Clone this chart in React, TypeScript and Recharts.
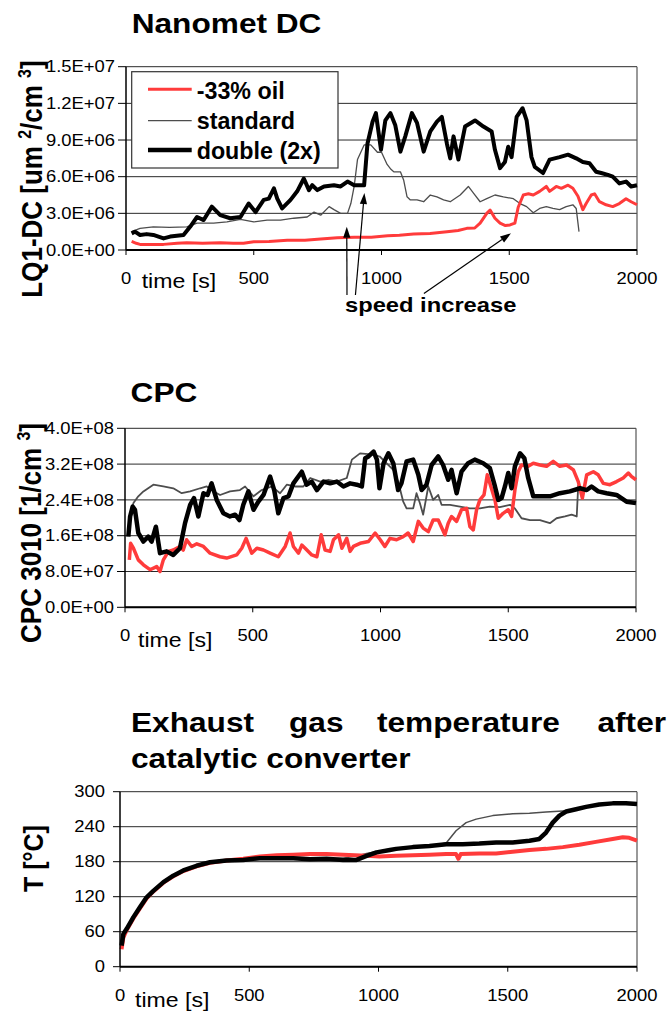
import React from 'react';
import { LineChart, Line, XAxis, YAxis, CartesianGrid, ReferenceLine } from 'recharts';

const FONT = "'Liberation Sans', Arial, Helvetica, sans-serif";

// ---------- ticks ----------
const TIME_TICKS = [0, 500, 1000, 1500, 2000];
const DC_TICKS = [0, 3e6, 6e6, 9e6, 12e6, 15e6];
const CPC_TICKS = [0, 0.8e8, 1.6e8, 2.4e8, 3.2e8, 4.0e8];
const T_TICKS = [0, 60, 120, 180, 240, 300];

const SERIES_NAMES = ['-33% oil', 'standard', 'double (2x)'];
const SERIES_COLORS = ['#ff3b3b', '#4d4d4d', '#000000'];

// ---------- Nanomet DC, values in 1e6 um2/cm3 ----------
const DC_OIL: number[][] = [
  [22,0.70],[40,0.55],[55,0.46],[100,0.45],[147,0.46],[200,0.55],[238,0.6],[300,0.55],[369,0.6],[420,0.55],
  [460,0.55],[500,0.68],[560,0.7],[631,0.8],[700,0.8],[762,0.9],[827,1.0],[893,1.05],[960,1.05],[1024,1.17],
  [1070,1.2],[1126,1.3],[1190,1.35],[1256,1.5],[1300,1.6],[1334,1.77],[1365,1.8],[1386,2.2],[1412,3.0],[1425,3.27],
  [1444,2.6],[1464,2.2],[1485,2.0],[1503,2.05],[1522,2.2],[1535,3.5],[1555,4.5],[1575,4.6],[1594,4.5],[1619,4.8],
  [1645,5.2],[1658,4.8],[1684,5.2],[1704,5.05],[1730,5.3],[1749,5.05],[1769,4.4],[1788,3.3],[1801,3.8],[1821,4.5],
  [1834,4.6],[1853,3.95],[1879,3.7],[1905,3.55],[1931,3.8],[1957,4.2],[1977,3.95],[2000,3.7],
];
const DC_STD: number[][] = [
  [22,1.5],[55,1.77],[107,1.9],[170,1.85],[238,1.9],[278,2.2],[343,2.2],[395,2.3],[448,2.5],[500,2.3],
  [552,2.45],[605,2.45],[657,2.6],[709,2.7],[736,3.1],[762,2.85],[795,3.55],[814,3.3],[840,3.0],[867,3.0],
  [880,3.8],[893,5.2],[906,7.4],[932,8.6],[958,8.6],[984,8.0],[1000,8.0],[1022,7.0],[1037,6.6],[1048,6.4],
  [1074,6.4],[1087,5.7],[1100,4.35],[1113,4.1],[1139,4.1],[1165,3.95],[1191,4.5],[1217,4.35],[1243,4.1],[1269,3.95],
  [1308,4.5],[1340,5.2],[1360,4.65],[1386,3.95],[1412,4.2],[1444,4.5],[1477,4.35],[1516,4.2],[1542,3.8],[1568,3.55],
  [1594,3.05],[1619,3.4],[1645,3.55],[1671,3.4],[1697,3.3],[1723,3.55],[1749,3.7],[1762,3.4],[1773,1.5],
];
const DC_DBL: number[][] = [
  [22,1.36],[35,1.5],[55,1.23],[81,1.3],[107,1.23],[147,0.95],[173,1.1],[225,1.23],[251,1.9],[278,2.7],
  [304,2.45],[336,3.55],[369,2.85],[408,2.6],[448,2.7],[480,3.8],[507,3.1],[539,4.1],[559,4.2],[579,5.05],
  [592,4.2],[611,3.4],[644,4.1],[670,4.8],[696,5.85],[716,4.9],[729,5.3],[749,4.9],[775,5.2],[814,5.3],
  [840,5.2],[867,5.6],[893,5.3],[932,5.3],[945,8.7],[965,10.5],[978,11.2],[998,8.2],[1015,10.6],[1035,11.2],
  [1054,10.2],[1074,8.05],[1093,9.3],[1119,11.2],[1139,10.4],[1165,8.05],[1191,9.7],[1217,10.5],[1236,10.9],[1256,8.7],
  [1269,7.5],[1282,9.3],[1301,7.4],[1327,10.1],[1366,10.6],[1399,10.1],[1431,9.7],[1444,8.2],[1464,6.7],[1483,7.2],
  [1496,8.45],[1509,7.6],[1529,10.9],[1552,11.6],[1568,10.6],[1587,7.6],[1600,6.8],[1632,6.3],[1658,7.4],[1697,7.6],
  [1730,7.8],[1762,7.5],[1788,7.2],[1814,7.1],[1840,6.4],[1860,6.3],[1886,6.15],[1905,6.0],[1931,5.45],[1957,5.6],
  [1977,5.2],[2000,5.3],
];
// speed increase arrows: [tailTime, tailValue, tipTime, tipValue] (1e6)
const SPEED_ARROWS: number[][] = [
  [865,-3.68,864,1.9],
  [898,-3.68,933,4.66],
  [1166,-3.56,1507,1.37],
];

// ---------- CPC 3010, values in 1e8 1/cm3 ----------
const CPC_OIL: number[][] = [
  [17,1.06],[22,1.43],[33,1.32],[52,1.06],[72,0.95],[98,0.84],[124,0.91],[137,0.80],[150,1.06],[170,1.25],
  [189,1.28],[215,1.36],[228,1.28],[241,1.51],[261,1.36],[281,1.42],[307,1.36],[333,1.21],[372,1.13],[398,1.10],
  [437,1.17],[457,1.32],[474,1.54],[496,1.21],[516,1.32],[542,1.28],[568,1.21],[600,1.13],[627,1.36],[646,1.66],
  [659,1.36],[679,1.21],[692,1.39],[705,1.32],[731,1.17],[751,1.13],[768,1.62],[783,1.28],[803,1.25],[816,1.51],
  [836,1.62],[849,1.32],[868,1.54],[881,1.25],[894,1.36],[920,1.43],[953,1.47],[979,1.66],[999,1.51],[1017,1.36],
  [1037,1.54],[1063,1.51],[1089,1.58],[1108,1.66],[1128,1.47],[1148,1.92],[1167,1.77],[1187,1.69],[1206,1.95],[1226,1.95],
  [1252,1.62],[1265,1.88],[1278,2.03],[1298,1.92],[1317,2.18],[1337,2.21],[1350,1.80],[1363,1.73],[1376,2.18],[1389,2.40],
  [1405,2.51],[1418,2.96],[1428,2.77],[1448,2.40],[1461,1.99],[1480,2.10],[1500,2.18],[1513,2.03],[1526,2.62],[1539,3.03],
  [1552,3.18],[1578,3.15],[1598,3.22],[1624,3.18],[1650,3.15],[1676,3.26],[1702,3.15],[1728,3.18],[1755,3.07],[1774,2.81],
  [1790,2.44],[1807,2.96],[1833,3.03],[1852,2.96],[1872,2.77],[1898,2.74],[1924,2.81],[1950,2.89],[1970,3.0],[1983,2.92],
  [2000,2.85],
];
const CPC_STD: number[][] = [
  [20,2.0],[33,2.33],[52,2.48],[72,2.59],[111,2.74],[150,2.70],[189,2.66],[222,2.55],[255,2.59],[294,2.66],
  [320,2.70],[346,2.59],[372,2.51],[411,2.59],[450,2.62],[470,2.70],[503,2.48],[535,2.62],[574,2.70],[607,2.55],
  [633,2.74],[666,2.70],[698,2.70],[725,2.89],[764,2.81],[796,2.85],[829,2.81],[868,2.89],[888,3.30],[920,3.44],
  [973,3.41],[997,3.37],[1023,3.22],[1050,3.07],[1069,2.81],[1089,2.36],[1102,2.21],[1128,2.21],[1141,2.55],[1154,2.33],
  [1167,2.07],[1187,2.70],[1206,2.40],[1226,2.51],[1239,2.29],[1272,2.29],[1311,2.25],[1350,2.21],[1389,2.21],[1428,2.25],
  [1467,2.24],[1507,2.29],[1526,2.21],[1552,1.99],[1585,1.95],[1624,1.95],[1663,1.88],[1689,1.99],[1722,2.03],[1748,2.07],
  [1768,2.03],[1774,2.74],
];
const CPC_DBL: number[][] = [
  [13,1.58],[20,2.03],[30,2.25],[39,2.18],[52,1.66],[72,1.47],[91,1.58],[104,1.47],[121,1.80],[137,1.21],
  [163,1.25],[189,1.17],[215,1.32],[235,1.88],[255,2.29],[270,2.44],[287,2.03],[307,2.55],[323,2.51],[339,2.77],
  [359,2.40],[385,2.10],[411,2.03],[431,2.07],[448,1.95],[463,2.29],[483,2.59],[503,2.18],[522,2.36],[542,2.51],
  [568,2.92],[584,2.62],[600,2.10],[620,2.44],[640,2.48],[659,2.77],[692,3.03],[711,2.74],[731,2.81],[751,2.62],
  [777,2.81],[803,2.77],[829,2.81],[855,2.70],[881,2.77],[907,2.74],[927,2.70],[940,3.33],[953,3.37],[973,3.48],
  [986,3.30],[996,2.66],[1012,3.22],[1031,3.44],[1050,3.22],[1069,2.62],[1082,2.77],[1102,3.26],[1128,3.30],[1148,2.96],
  [1161,2.62],[1180,2.74],[1200,3.18],[1226,3.37],[1245,3.18],[1265,2.85],[1278,3.07],[1298,2.55],[1317,3.03],[1343,3.22],
  [1369,3.30],[1402,3.22],[1428,3.11],[1448,2.70],[1461,2.40],[1474,2.44],[1487,2.70],[1500,3.0],[1513,2.66],[1526,3.15],
  [1546,3.44],[1563,3.33],[1578,2.89],[1598,2.48],[1624,2.48],[1663,2.48],[1702,2.55],[1741,2.59],[1781,2.66],[1807,2.62],
  [1826,2.70],[1852,2.59],[1885,2.55],[1924,2.51],[1963,2.36],[2000,2.33],
];

// ---------- Exhaust gas temperature, °C ----------
const T_OIL: number[][] = [
  [6,30],[13,50],[26,63],[52,83],[77,100],[103,117],[129,129],[168,144],[206,155],[245,164],
  [296,172],[348,178],[412,182],[477,185],[541,189],[606,191],[670,192],[735,193],[799,193],[863,192],
  [954,190],[1004,189],[1068,190],[1133,191],[1197,192],[1262,193],[1300,193],[1309,185],[1318,193],[1390,194],
  [1455,194],[1519,197],[1584,200],[1648,202],[1713,205],[1777,209],[1841,214],[1906,219],[1945,222],[1970,221],
  [2000,216],
];
const T_STD: number[][] = [
  [6,36],[13,56],[26,65],[52,85],[77,102],[103,119],[129,130],[168,145],[206,156],[245,165],
  [296,173],[348,179],[412,182],[477,183],[541,185],[606,186],[670,186],[735,186],[799,186],[863,186],
  [915,190],[954,194],[1000,198],[1100,203],[1200,207],[1262,212],[1300,233],[1339,247],[1378,253],[1442,259],
  [1519,262],[1584,263],[1648,265],[1713,267],[1770,269],
];
const T_DBL: number[][] = [
  [6,36],[13,56],[26,65],[52,85],[77,102],[103,119],[129,130],[168,145],[206,156],[245,165],
  [296,173],[348,179],[412,182],[477,183],[541,186],[606,186],[670,186],[735,184],[799,185],[863,183],
  [915,183],[954,190],[992,196],[1044,200],[1068,202],[1133,205],[1197,207],[1262,210],[1326,210],[1390,211],
  [1455,213],[1519,213],[1584,216],[1622,219],[1648,230],[1674,247],[1700,259],[1726,266],[1764,270],[1803,274],
  [1854,278],[1906,280],[1957,280],[2000,279],
];

const toPts = (arr: number[][], k: number) => arr.map(([t, v]) => ({ t, v: v * k }));

const expFmt = (v: number) => {
  const [m, e] = v.toExponential(1).split('e');
  const sign = e[0] === '-' ? '-' : '+';
  const digits = e.replace(/[+-]/, '').padStart(2, '0');
  return `${m}E${sign}${digits}`;
};
const plainFmt = (v: number) => String(v);

const SX = 1.15;

const makeYTick = (fmt: (v: number) => string) => (p: any) => (
  <text
    transform={`translate(${p.x},${p.y}) scale(${SX},1)`}
    x={0}
    y={0}
    dy="0.36em"
    textAnchor="end"
    fontSize={16}
    fontFamily={FONT}
    fill="#000"
  >
    {fmt(p.payload.value)}
  </text>
);

const XTick = (p: any) => (
  <text
    transform={`translate(${p.x},${p.y + 27}) scale(${SX},1)`}
    x={0}
    y={0}
    textAnchor="middle"
    fontSize={16}
    fontFamily={FONT}
    fill="#000"
  >
    {p.payload.value}
  </text>
);

const ArrowShape = (p: any) => {
  const { x1, y1, x2, y2 } = p;
  const a = Math.atan2(y2 - y1, x2 - x1);
  const L = 11;
  const W = 3.6;
  const bx = x2 - L * Math.cos(a);
  const by = y2 - L * Math.sin(a);
  const pts = `${x2},${y2} ${bx - W * Math.sin(a)},${by + W * Math.cos(a)} ${bx + W * Math.sin(a)},${by - W * Math.cos(a)}`;
  return (
    <g>
      <line x1={x1} y1={y1} x2={bx} y2={by} stroke="#000" strokeWidth={1.2} />
      <polygon points={pts} fill="#000" />
    </g>
  );
};

type PanelProps = {
  top: number;
  height: number;
  plot: { left: number; right: number; top: number; bottom: number };
  yDomain: [number, number];
  yTicks: number[];
  yFmt: (v: number) => string;
  yTickSize: number;
  yTickMargin: number;
  series: { data: any[]; width: number }[];
  children?: React.ReactNode;
};

function Panel({ top, height, plot, yDomain, yTicks, yFmt, yTickSize, yTickMargin, series, children }: PanelProps) {
  const margin = {
    top: plot.top - top,
    bottom: 0,
    left: 0,
    right: 668 - plot.right,
  };
  const xAxisHeight = top + height - plot.bottom;
  // draw order: standard, oil, double
  const order = [1, 0, 2];
  return (
    <div style={{ position: 'absolute', left: 0, top, width: 668, height }}>
      <LineChart width={668} height={height} margin={margin}>
        <CartesianGrid horizontal vertical={false} stroke="#2a2a2a" strokeWidth={1} />
        <XAxis
          dataKey="t"
          type="number"
          domain={[0, 2000]}
          ticks={TIME_TICKS}
          height={xAxisHeight}
          tickSize={5}
          tickMargin={2}
          axisLine={{ stroke: '#000', strokeWidth: 2 }}
          tickLine={{ stroke: '#000', strokeWidth: 1 }}
          tick={XTick}
          interval={0}
        />
        <YAxis
          type="number"
          domain={yDomain}
          ticks={yTicks}
          width={plot.left}
          tickSize={yTickSize}
          tickMargin={yTickMargin}
          axisLine={{ stroke: '#000', strokeWidth: 1.5 }}
          tickLine={{ stroke: '#000', strokeWidth: 1 }}
          tick={makeYTick(yFmt)}
          interval={0}
        />
        <ReferenceLine x={2000} stroke="#555" strokeWidth={1.2} />
        {order.map((i) => (
          <Line
            key={SERIES_NAMES[i]}
            name={SERIES_NAMES[i]}
            data={series[i].data}
            dataKey="v"
            type="linear"
            stroke={SERIES_COLORS[i]}
            strokeWidth={series[i].width}
            strokeLinejoin="round"
            dot={false}
            activeDot={false}
            isAnimationActive={false}
          />
        ))}
        {children}
      </LineChart>
    </div>
  );
}

const T = (props: any) => <text fontFamily={FONT} fill="#000" {...props} />;

export default function App() {
  return (
    <div style={{ position: 'absolute', left: 0, top: 0, width: 668, height: 1016, background: '#fff', overflow: 'hidden' }}>
      <Panel
        top={0}
        height={320}
        plot={{ left: 126, right: 637, top: 66.7, bottom: 250 }}
        yDomain={[0, 15e6]}
        yTicks={DC_TICKS}
        yFmt={expFmt}
        yTickSize={8}
        yTickMargin={3}
        series={[
          { data: toPts(DC_OIL, 1e6), width: 3 },
          { data: toPts(DC_STD, 1e6), width: 1.3 },
          { data: toPts(DC_DBL, 1e6), width: 4 },
        ]}
      >
        {SPEED_ARROWS.map((a, i) => (
          <ReferenceLine
            key={`arrow-${i}`}
            segment={[{ x: a[0], y: a[1] * 1e6 }, { x: a[2], y: a[3] * 1e6 }]}
            ifOverflow="visible"
            shape={ArrowShape}
          />
        ))}
      </Panel>

      <Panel
        top={370}
        height={290}
        plot={{ left: 125, right: 636, top: 428.3, bottom: 607.3 }}
        yDomain={[0, 4e8]}
        yTicks={CPC_TICKS}
        yFmt={expFmt}
        yTickSize={8}
        yTickMargin={3}
        series={[
          { data: toPts(CPC_OIL, 1e8), width: 3.5 },
          { data: toPts(CPC_STD, 1e8), width: 1.8 },
          { data: toPts(CPC_DBL, 1e8), width: 4.5 },
        ]}
      />

      <Panel
        top={690}
        height={326}
        plot={{ left: 120, right: 637, top: 791.7, bottom: 966.7 }}
        yDomain={[0, 300]}
        yTicks={T_TICKS}
        yFmt={plainFmt}
        yTickSize={7}
        yTickMargin={8}
        series={[
          { data: toPts(T_OIL, 1), width: 4 },
          { data: toPts(T_STD, 1), width: 1.5 },
          { data: toPts(T_DBL, 1), width: 4.5 },
        ]}
      />

      <svg
        width={668}
        height={1016}
        style={{ position: 'absolute', left: 0, top: 0, pointerEvents: 'none' }}
      >
        {/* titles */}
        <T transform="translate(131.7,33.3) scale(1.13,1)" fontSize={28} fontWeight="bold">Nanomet DC</T>
        <T transform="translate(130.6,401.7) scale(1.13,1)" fontSize={28} fontWeight="bold">CPC</T>
        <T transform="translate(131,731.7) scale(1.13,1)" fontSize={28} fontWeight="bold">Exhaust</T>
        <T transform="translate(289,731.7) scale(1.13,1)" fontSize={28} fontWeight="bold">gas</T>
        <T transform="translate(377,731.7) scale(1.13,1)" fontSize={28} fontWeight="bold">temperature</T>
        <T transform="translate(597.5,731.7) scale(1.13,1)" fontSize={28} fontWeight="bold">after</T>
        <T transform="translate(131,768) scale(1.13,1)" fontSize={28} fontWeight="bold">catalytic converter</T>

        {/* y axis labels */}
        <T transform="translate(42,179) rotate(-90) scale(1,1.1)" fontSize={26} fontWeight="bold" textAnchor="middle">
          LQ1-DC [um <tspan fontSize={16} dy={-10}>2</tspan><tspan dy={10}>/cm </tspan><tspan fontSize={16} dy={-10}>3</tspan><tspan dy={10}>]</tspan>
        </T>
        <T transform="translate(41,533) rotate(-90) scale(1,1.1)" fontSize={26} fontWeight="bold" textAnchor="middle">
          CPC 3010 [1/cm <tspan fontSize={16} dy={-10}>3</tspan><tspan dy={10}>]</tspan>
        </T>
        <T transform="translate(43,858.5) rotate(-90) scale(1,1.1)" fontSize={25} fontWeight="bold" textAnchor="middle">
          T [°C]
        </T>

        {/* x axis titles */}
        <T transform="translate(141.7,288) scale(1.1,1)" fontSize={21}>time [s]</T>
        <T transform="translate(138,646.7) scale(1.1,1)" fontSize={21}>time [s]</T>
        <T transform="translate(135,1006.7) scale(1.1,1)" fontSize={21}>time [s]</T>

        {/* annotation */}
        <T transform="translate(345,312) scale(1.13,1)" fontSize={21} fontWeight="bold">speed increase</T>

        {/* legend (top panel) */}
        <rect x={131.7} y={71.7} width={206.3} height={96.3} fill="#fff" stroke="#333" strokeWidth={1.2} />
        {SERIES_NAMES.map((name, i) => {
          const cy = [89.3, 120.7, 150][i];
          const base = [99, 129, 159][i];
          const w = [3, 1.3, 4.5][i];
          return (
            <g key={name}>
              <line x1={148} y1={cy} x2={191.7} y2={cy} stroke={SERIES_COLORS[i]} strokeWidth={w} />
              <T transform={`translate(196.7,${base}) scale(0.97,1)`} fontSize={24} fontWeight="bold">{name}</T>
            </g>
          );
        })}
      </svg>
    </div>
  );
}
